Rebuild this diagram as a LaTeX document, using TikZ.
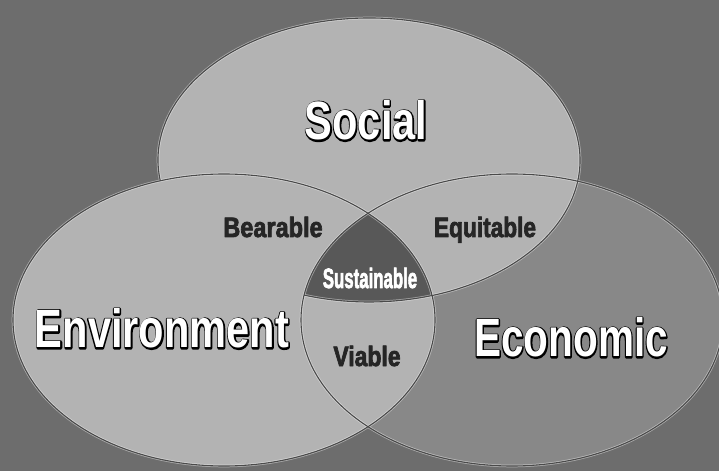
\documentclass[tikz,border=0pt]{standalone}
\usepackage{fontspec}
\setmainfont{Liberation Sans}
\definecolor{bgcol}{HTML}{6D6D6D}
\definecolor{lightfill}{HTML}{B3B3B3}
\definecolor{econfill}{HTML}{888888}
\definecolor{centerfill}{HTML}{585858}
\definecolor{edgecol}{HTML}{4A4A4A}
\definecolor{txtdark}{HTML}{262626}
% white text on a dark silhouette (silhouette = fill + thick stroke)
\newcommand\glowtxt[2]{\scalebox{#1}[1]{%
  \makebox[0pt][l]{\color{black}\special{pdf:literal 2 Tr 3.2 w 0 G 1 j}#2\special{pdf:literal 0 Tr 0.4 w 0 j}}%
  \textcolor{white}{#2}}}
% condensed, slightly emboldened text (stroke in the text colour)
\newcommand\condtxt[2]{\scalebox{#1}[1]{\special{pdf:literal 2 Tr 0.8 w 1 j}#2\special{pdf:literal 0 Tr 0.4 w 0 j}}}
\begin{document}
\begin{tikzpicture}[x=1pt,y=1pt,
  outlinehi/.style={line width=2.6pt, draw=white, draw opacity=0.45},
  outlinedk/.style={line width=1.1pt, draw=edgecol},
  biglbl/.style={font=\fontsize{54}{54}\selectfont\bfseries, inner sep=0pt, anchor=base},
  smalllbl/.style={font=\fontsize{28}{28}\selectfont\bfseries, inner sep=0pt, anchor=base, text=txtdark},
  ellS/.style={x radius=211, y radius=142},
  ellB/.style={x radius=211, y radius=146}]
\useasboundingbox (0,0) rectangle (719,471);
\fill[bgcol] (0,0) rectangle (719,471);
\coordinate (cS) at (369,311);
\coordinate (cV) at (224,151);
\coordinate (cE) at (512,151);
% fills
\fill[econfill] (cE) ellipse [ellB];
\fill[lightfill] (cS) ellipse [ellS];
\fill[lightfill] (cV) ellipse [ellB];
\begin{scope}
  \clip (cS) ellipse [ellS];
  \clip (cV) ellipse [ellB];
  \fill[centerfill] (cE) ellipse [ellB];
\end{scope}
% outlines
\draw[outlinehi] (cV) ellipse [ellB];
\draw[outlinehi] (cE) ellipse [ellB];
\draw[outlinehi] ([shift={(188.5:211 and 142)}]cS) arc[start angle=188.5, end angle=-107.9, ellS];
\draw[outlinedk] (cV) ellipse [ellB];
\draw[outlinedk] (cE) ellipse [ellB];
\draw[outlinedk] ([shift={(188.5:211 and 142)}]cS) arc[start angle=188.5, end angle=-107.9, ellS];
% labels
\node[biglbl] (social) at (366,331) {\glowtxt{0.77}{Social}};
\node[biglbl] (environment) at (162,123) {\glowtxt{0.77}{Environment}};
\node[biglbl] (economic) at (571,114) {\glowtxt{0.75}{Economic}};
\node[smalllbl] (bearable) at (273,234) {\condtxt{0.84}{Bearable}};
\node[smalllbl] (equitable) at (485,234) {\condtxt{0.81}{Equitable}};
\node[smalllbl] (viable) at (367,105) {\condtxt{0.82}{Viable}};
\node[smalllbl, text=white] (sustainable) at (370,183) {\condtxt{0.6}{Sustainable}};
\end{tikzpicture}
\end{document}
